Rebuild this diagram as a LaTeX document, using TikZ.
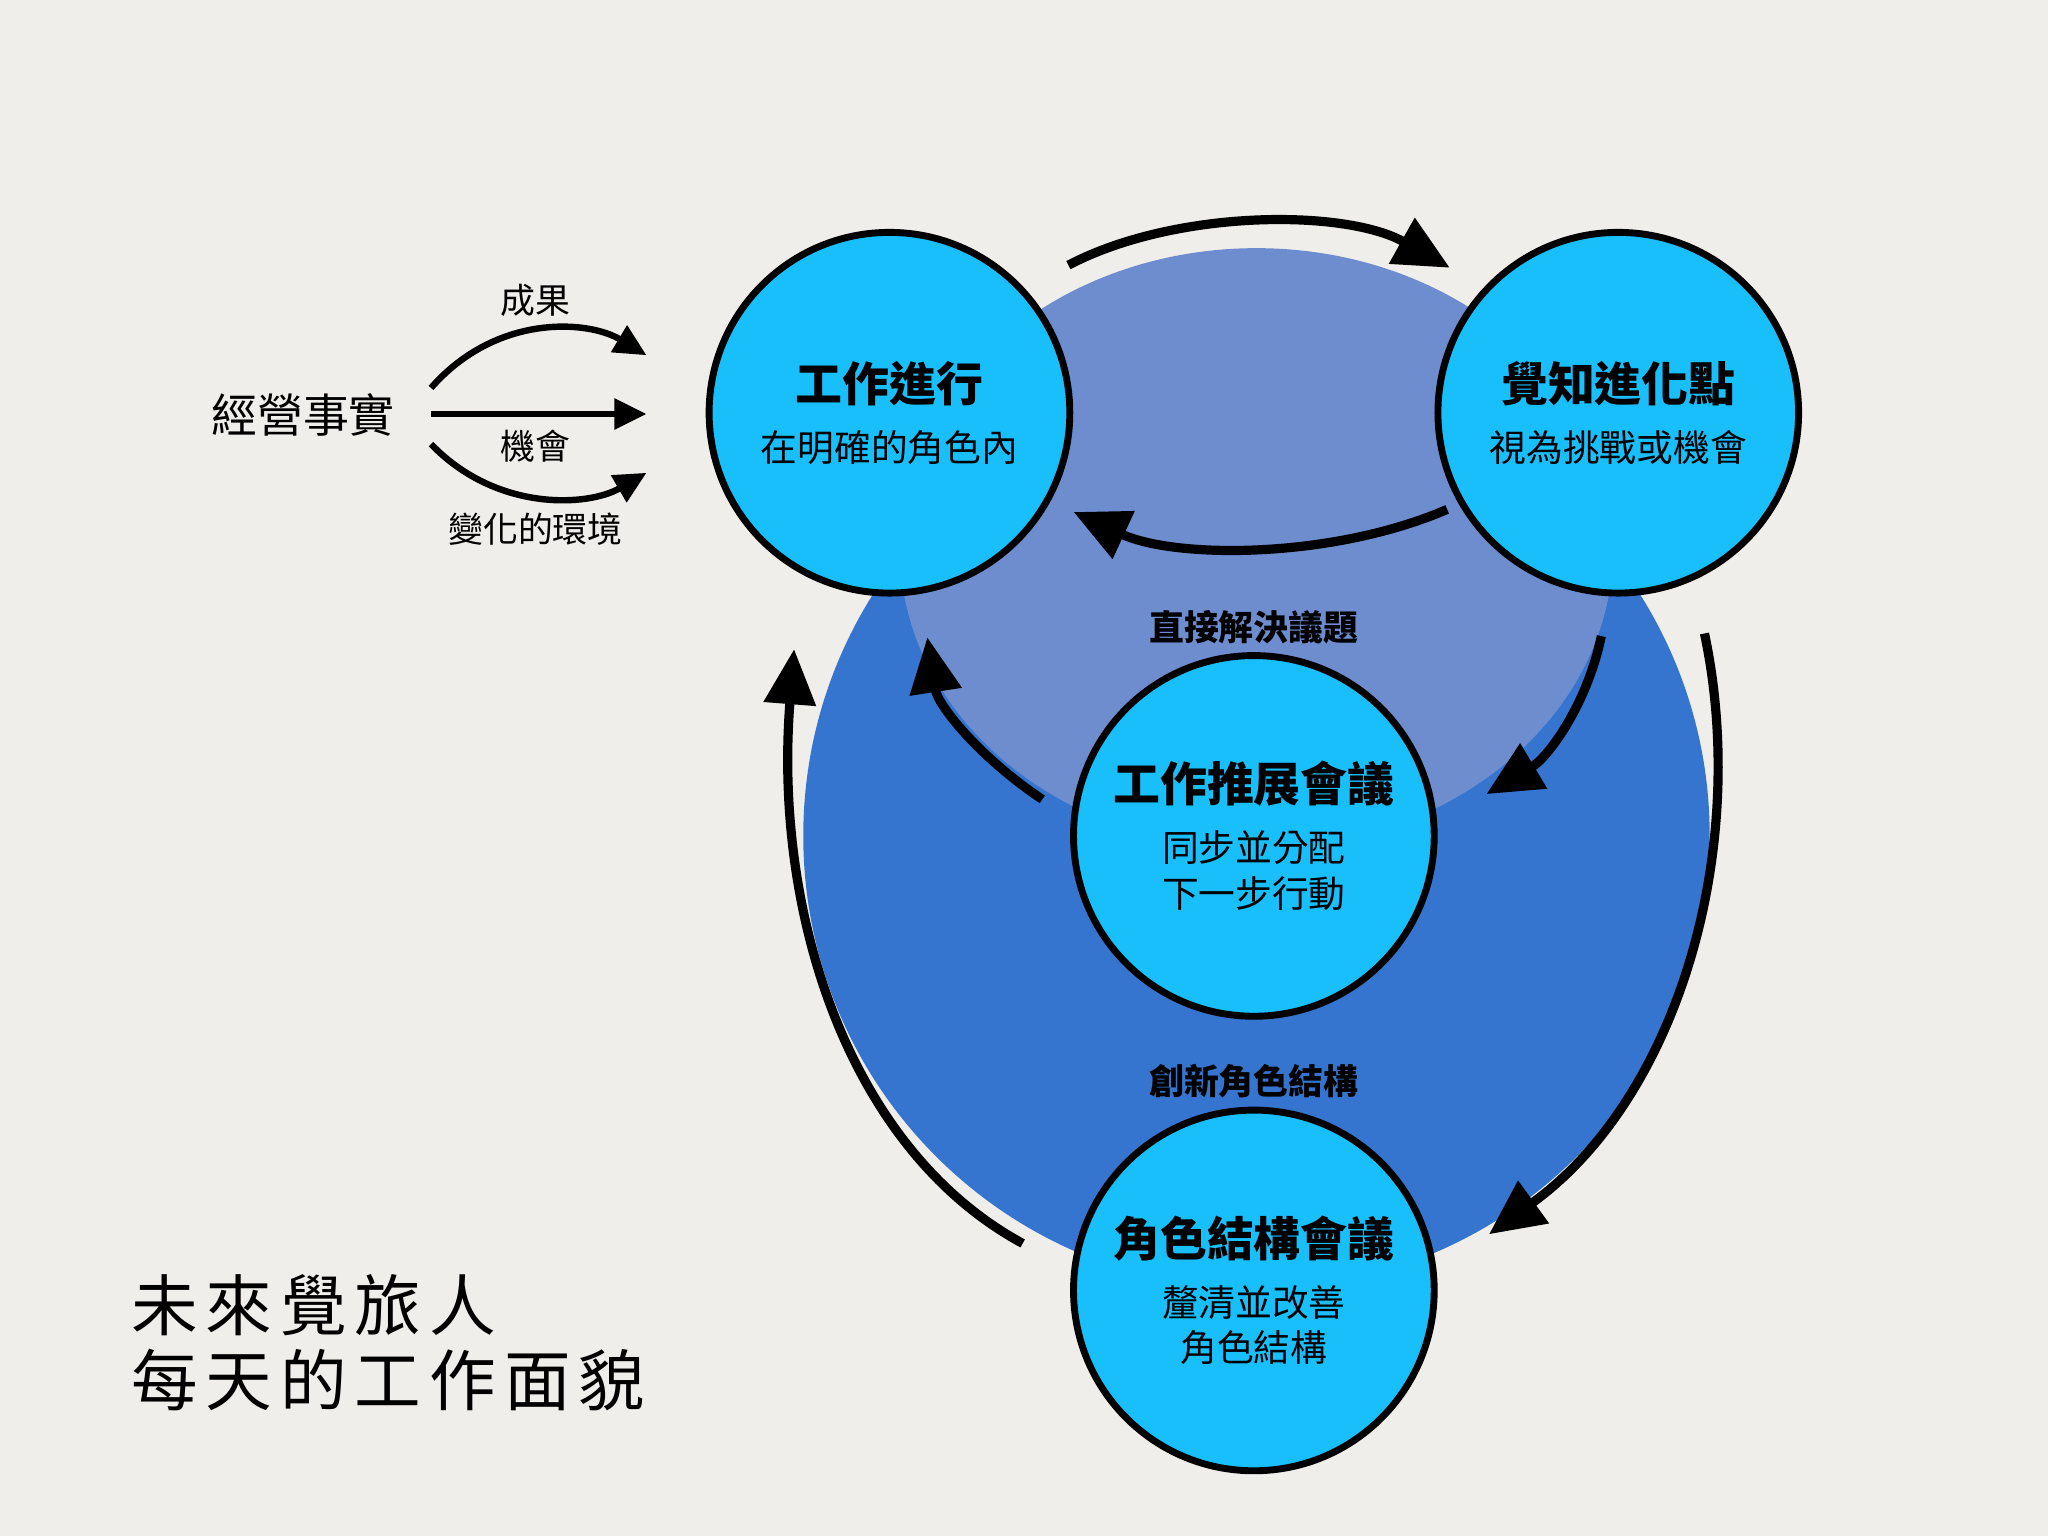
\documentclass[tikz,border=0pt]{standalone}
\usepackage{fontspec}
\setmainfont{Noto Sans CJK TC}
\usetikzlibrary{arrows.meta}
\definecolor{bg}{HTML}{F0EEEA}
\definecolor{dblue}{HTML}{3575CF}
\definecolor{gblue}{HTML}{6E8DCF}
\definecolor{cyan1}{HTML}{19BFFB}
\tikzset{
 bub/.style={circle,draw=black,line width=1.5pt,fill=cyan1,minimum size=2.76cm,inner sep=0pt,align=center},
 big/.style={line width=2pt,-{Triangle[length=12pt,width=11pt]}},
 small/.style={line width=1.4pt,-{Triangle[length=7pt,width=6.5pt]}},
 lab/.style={font=\fontsize{7.6}{9}\selectfont}
}
\newcommand{\ttl}{\fontsize{10.2}{12}\selectfont\bfseries}
\newcommand{\sub}{\fontsize{8}{9}\selectfont}
\begin{document}
\begin{tikzpicture}[x=0.01cm,y=-0.01cm]
\fill[bg] (0,0) rectangle (1568,1176);
\useasboundingbox (0,0) rectangle (1568,1176);
\fill[dblue] (962,640) circle (347);
\fill[gblue] (962,420) ellipse [x radius=273, y radius=230];
\node[bub] (A) at (681,316) {{\ttl 工作進行}\\[1pt]{\sub 在明確的角色內}};
\node[bub] (B) at (1239,316) {{\ttl 覺知進化點}\\[1pt]{\sub 視為挑戰或機會}};
\node[bub] (C) at (960,640) {{\ttl 工作推展會議}\\[1pt]{\sub 同步並分配}\\[-2pt]{\sub 下一步行動}};
\node[bub] (D) at (960,988) {{\ttl 角色結構會議}\\[1pt]{\sub 釐清並改善}\\[-2pt]{\sub 角色結構}};
\coordinate (t1) at (818,203); \coordinate (t2) at (1110,205);
\coordinate (b1) at (1108,390); \coordinate (b2) at (822,392);
\coordinate (l1) at (798,612); \coordinate (l2) at (710,488);
\coordinate (r1) at (1226,487); \coordinate (r2) at (1138,608);
\coordinate (L1) at (783,952); \coordinate (L2) at (608,497);
\coordinate (R1) at (1305,485); \coordinate (R2) at (1140,945);
\draw[big] (t1) .. controls (900,160) and (1030,160) .. (t2);
\draw[big] (b1) .. controls (1020,428) and (900,428) .. (b2);
\draw[big] (l1) .. controls (750,580) and (718,540) .. (l2);
\draw[big] (r1) .. controls (1215,540) and (1185,580) .. (r2);
\draw[big] (L1) .. controls (650,880) and (592,700) .. (L2);
\draw[big] (R1) .. controls (1340,650) and (1285,840) .. (R2);
\node[font=\fontsize{7.6}{9}\selectfont\bfseries] (n1) at (960,480) {直接解決議題};
\node[font=\fontsize{7.6}{9}\selectfont\bfseries] (n2) at (960,828) {創新角色結構};
\node[font=\fontsize{10}{11}\selectfont] (F) at (232,318) {經營事實};
\coordinate (f1) at (330,297); \coordinate (f2) at (495,272);
\coordinate (g1) at (330,317); \coordinate (g2) at (495,317);
\coordinate (h1) at (330,340); \coordinate (h2) at (495,362);
\draw[small] (f1) .. controls (380,240) and (450,245) .. (f2);
\draw[small] (g1) -- (g2);
\draw[small] (h1) .. controls (380,392) and (450,388) .. (h2);
\node[lab] (k1) at (410,230) {成果};
\node[lab] (k2) at (410,342) {機會};
\node[lab] (k3) at (410,405) {變化的環境};
\node[anchor=west,align=left,font=\fontsize{14.5}{16.5}\selectfont\addfontfeature{LetterSpace=12}] (T) at (88,1028) {未來覺旅人\\每天的工作面貌};
\end{tikzpicture}
\end{document}
